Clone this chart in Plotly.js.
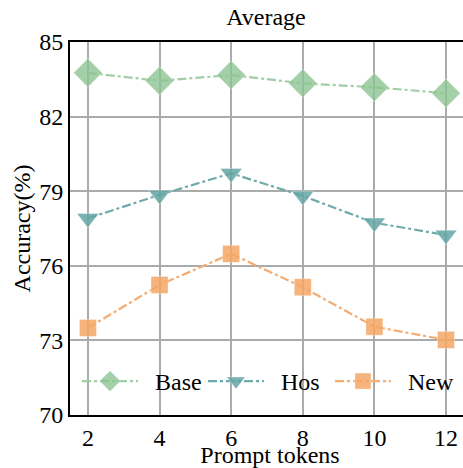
<!DOCTYPE html>
<html><head><meta charset="utf-8">
<script src="https://cdn.plot.ly/plotly-3.0.1.min.js"></script>
<style>html,body{margin:0;background:#fff;overflow:hidden}#c{width:472px;height:468px}</style>
</head><body><div id="c"></div>
<script>
const tokens = [2, 4, 6, 8, 10, 12];
const baseAcc = [83.76, 83.44, 83.67, 83.34, 83.18, 82.94];
const hosAcc = [77.91, 78.85, 79.72, 78.81, 77.73, 77.24];
const newAcc = [73.50, 75.23, 76.48, 75.14, 73.55, 73.02];
const yTicks = [70, 73, 76, 79, 82, 85];
const seriesNames = ['Base', 'Hos', 'New'];

const font = 'Liberation Serif, Times New Roman, serif';
const pad = '\u00a0\u00a0';
function tr(name, y, color, fill, sym, size, leg) {
  return {x: tokens, y: y, name: pad + name, type: 'scatter', mode: 'lines+markers', legend: leg,
    line: {color: color, width: 2.2, dash: 'dashdot'},
    marker: {symbol: sym, size: size, color: fill, line: {color: 'rgba(255,255,255,0.35)', width: 1}}};
}
const data = [
  tr(seriesNames[0], baseAcc, 'rgb(160,206,164)', 'rgba(140,196,146,0.8)', 'diamond', 22, 'legend'),
  tr(seriesNames[1], hosAcc, 'rgb(110,170,170)', 'rgba(100,164,164,0.85)', 'triangle-down', 19, 'legend2'),
  tr(seriesNames[2], newAcc, 'rgb(245,172,112)', 'rgba(244,166,100,0.85)', 'square', 17, 'legend3')
];
function leg(x) {
  return {orientation: 'v', x: x, y: 0.09, xanchor: 'left', yanchor: 'middle',
    bgcolor: 'rgba(0,0,0,0)', font: {family: font, size: 24}, itemwidth: 56};
}
const layout = {
  width: 472, height: 468,
  margin: {l: 70, r: 2, t: 42, b: 53},
  paper_bgcolor: '#fff', plot_bgcolor: '#fff',
  font: {family: font, size: 24, color: '#000'},
  title: {text: 'Average', x: 0.49, xref: 'paper', xanchor: 'center', y: 0.982, yanchor: 'top', font: {family: font, size: 24}},
  showlegend: true,
  legend: leg(0.0175), legend2: leg(0.3325), legend3: leg(0.65),
  xaxis: {range: [1.5, 12.67], tickvals: tokens, ticktext: tokens.map(String), showgrid: true,
    gridcolor: '#ababab', gridwidth: 2, zeroline: false, showline: true, linecolor: '#000', linewidth: 2,
    mirror: true, ticks: '', ticklen: 0, tickfont: {size: 24},
    title: {text: 'Prompt tokens', standoff: 0, font: {size: 24}}},
  yaxis: {range: [70, 85], tickvals: yTicks, ticktext: yTicks.map(String), showgrid: true,
    gridcolor: '#ababab', gridwidth: 2, zeroline: false, showline: true, linecolor: '#000', linewidth: 2,
    mirror: true, ticks: '', tickfont: {size: 24},
    title: {text: 'Accuracy(%)', standoff: 2, font: {size: 24}}}
};
Plotly.newPlot('c', data, layout, {displayModeBar: false, staticPlot: true});
</script></body></html>
